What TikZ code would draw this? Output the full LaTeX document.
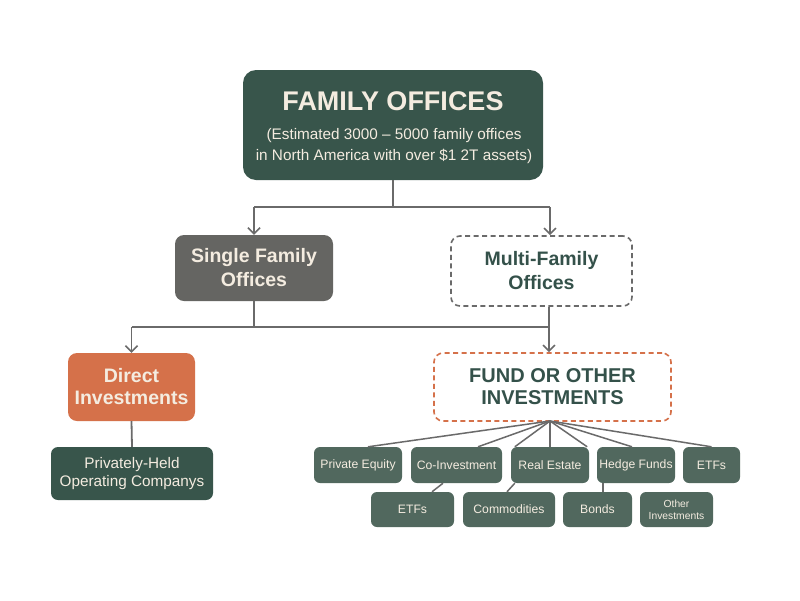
\documentclass[tikz,border=0pt]{standalone}
\usepackage{fontspec}
\setmainfont{Liberation Sans}
\usetikzlibrary{arrows.meta}
\definecolor{dkgreen}{HTML}{38554B}
\definecolor{leafgreen}{HTML}{51685E}
\definecolor{boxgray}{HTML}{656562}
\definecolor{orangebox}{HTML}{D5714A}
\definecolor{cream}{HTML}{F4ECE0}
\definecolor{linegray}{HTML}{6A6A6A}
\definecolor{txtgreen}{HTML}{34514A}
\tikzset{
  box/.style={rectangle, rounded corners=9pt, align=center, inner sep=0pt},
  topbox/.style={box, fill=dkgreen, text=cream, rounded corners=13pt},
  graybox/.style={box, fill=boxgray, text=cream, font=\fontsize{19.5}{24}\selectfont\bfseries},
  dashbox/.style={box, draw=linegray, line width=1.6pt, dash pattern=on 5pt off 3.5pt, fill=white, text=txtgreen, font=\fontsize{19.5}{24}\selectfont\bfseries},
  orangebox/.style={box, fill=orangebox, text=cream, font=\fontsize{19.5}{22}\selectfont\bfseries},
  fundbox/.style={box, draw=orangebox, line width=1.6pt, dash pattern=on 5pt off 3.5pt, fill=white, text=txtgreen, font=\fontsize{20}{22}\selectfont\bfseries},
  leaf/.style={box, rounded corners=6pt, fill=leafgreen, text=cream, font=\fontsize{12.2}{13}\selectfont, minimum height=36pt},
  conn/.style={draw=linegray, line width=1.8pt},
  arr/.style={conn, -{Straight Barb[length=6pt,width=12pt,line width=1.6pt]}},
  thin/.style={draw=linegray, line width=1.5pt}
}
\begin{document}
\begin{tikzpicture}[x=1pt,y=-1pt]
\useasboundingbox[fill=white] (0,0) rectangle (800,600);

\node[topbox, minimum width=300pt, minimum height=110pt] (top) at (393,125) {};
\node[text=cream, font=\fontsize{27}{30}\selectfont\bfseries] (toptitle) at (393,101) {FAMILY OFFICES};
\node[text=cream, align=center, font=\fontsize{15.3}{21.5}\selectfont] (topsub) at (394,146) {(Estimated 3000 -- 5000 family offices\\in North America with over \$1 2T assets)};

\node[graybox, minimum width=158pt, minimum height=66pt] (single) at (254,268) {Single Family\\Offices};
\node[dashbox, minimum width=181pt, minimum height=70pt] (multi) at (541.5,271) {Multi-Family\\Offices};

\node[orangebox, minimum width=127pt, minimum height=68pt] (direct) at (131.5,387) {Direct\\Investments};
\node[box, fill=dkgreen, text=cream, rounded corners=7pt, font=\fontsize{15.3}{18.5}\selectfont, minimum width=162pt, minimum height=53pt] (priv) at (132,473.5) {Privately-Held\\Operating Companys};

\node[fundbox, minimum width=237pt, minimum height=68pt] (fund) at (552.5,387) {FUND OR OTHER\\INVESTMENTS};

% row 1
\node[leaf, minimum width=88pt] (pe) at (358,465) {Private Equity};
\node[leaf, minimum width=91pt] (coinv) at (456.5,465) {Co-Investment};
\node[leaf, minimum width=78pt] (re) at (550,465) {Real Estate};
\node[leaf, minimum width=78pt] (hf) at (636,465) {Hedge Funds};
\node[leaf, minimum width=57pt] (etfa) at (711.5,465) {ETFs};
% row 2
\node[leaf, minimum width=83pt, minimum height=35pt] (etfb) at (412.5,509.5) {ETFs};
\node[leaf, minimum width=92pt, minimum height=35pt] (comm) at (509,509.5) {Commodities};
\node[leaf, minimum width=69pt, minimum height=35pt] (bonds) at (597.5,509.5) {Bonds};
\node[leaf, minimum width=73pt, minimum height=35pt, font=\fontsize{10.3}{12}\selectfont] (other) at (676.5,509.5) {Other\\Investments};

% top connectors
\coordinate (j1) at (393,207);
\coordinate (j1l) at (254,207);
\coordinate (j1r) at (550,207);
\draw[conn] (top.south) -- (j1);
\draw[conn] (j1l) -- (j1r);
\draw[arr] (j1l) -- (single.north);
\draw[arr] (j1r) -- (multi.north -| j1r);

% second level
\coordinate (j2l) at (131.5,327);
\coordinate (j2r) at (549,327);
\draw[conn] (single.south) -- (single.south |- j2l);
\draw[conn] (multi.south -| j2r) -- (j2r);
\draw[conn] (j2l) -- (j2r);
\draw[arr] (j2l) -- (direct.north);
\draw[arr] (j2r) -- (fund.north -| j2r);

\draw[conn] (direct.south) -- (priv.north);

% fan
\coordinate (hub) at (550,421);
\draw[thin] (hub) -- ([xshift=10pt]pe.north);
\draw[thin] (hub) -- ([xshift=21.5pt]coinv.north);
\draw[thin] (hub) -- ([xshift=4pt]re.north west);
\draw[thin] (hub) -- (re.north);
\draw[thin] (hub) -- ([xshift=-2pt]re.north east);
\draw[thin] (hub) -- ([xshift=-4pt]hf.north);
\draw[thin] (hub) -- (etfa.north);

% row 2 links
\draw[thin] ([xshift=-13.5pt]coinv.south) -- ([xshift=19.5pt]etfb.north);
\draw[thin] ([xshift=4pt]re.south west) -- ([xshift=-2pt]comm.north);
\draw[thin] ([xshift=-33pt]hf.south) -- ([xshift=5.5pt]bonds.north);
\end{tikzpicture}
\end{document}
